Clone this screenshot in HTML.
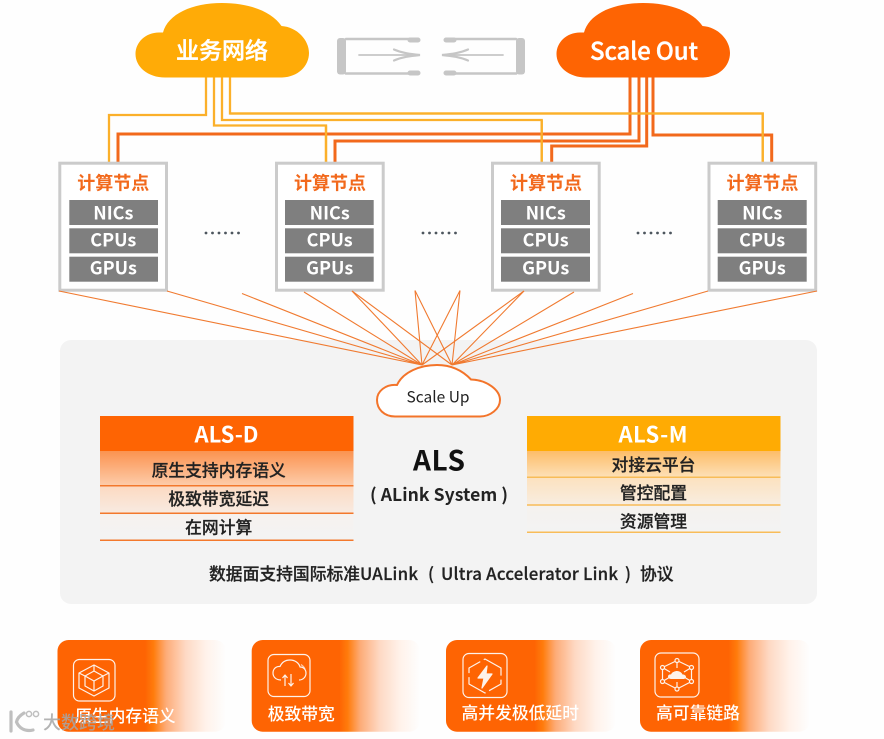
<!DOCTYPE html>
<html><head><meta charset="utf-8">
<style>
html,body{margin:0;padding:0;background:#fefefe;width:884px;height:739px;overflow:hidden}
svg{display:block;filter:blur(.3px)}
text{font-family:"Noto Sans CJK SC","Liberation Sans",sans-serif}
.cjk{font-weight:500}
.m{text-anchor:middle}
.t{fill:#222;stroke:#222;stroke-width:.25px}
.w{stroke:#fff;stroke-width:.4px}
.ti{font-weight:700;fill:#f2691c;font-size:18px;text-anchor:middle}
</style></head><body>
<svg width="884" height="739" viewBox="0 0 884 739" xmlns="http://www.w3.org/2000/svg">
<defs>
<linearGradient id="gd" x1="0" y1="0" x2="0" y2="1">
<stop offset="0" stop-color="#fb9350"/><stop offset=".38" stop-color="#fdcba8"/><stop offset=".4" stop-color="#fcdac2"/><stop offset=".7" stop-color="#f8ebe2"/><stop offset=".72" stop-color="#f6f2ef"/><stop offset="1" stop-color="#f3f3f3"/>
</linearGradient>
<linearGradient id="gm" x1="0" y1="0" x2="0" y2="1">
<stop offset="0" stop-color="#fdbd68"/><stop offset=".32" stop-color="#fde0b6"/><stop offset=".34" stop-color="#fce2c0"/><stop offset=".66" stop-color="#f8ede0"/><stop offset=".68" stop-color="#f5f2ee"/><stop offset="1" stop-color="#f3f3f3"/>
</linearGradient>
<linearGradient id="gc" x1="0" y1="0" x2="1" y2="0">
<stop offset="0" stop-color="#fe6403"/><stop offset=".52" stop-color="#fe6403"/><stop offset=".57" stop-color="#ff7c0c"/><stop offset=".645" stop-color="#fdac78"/><stop offset=".76" stop-color="#fed9c4"/><stop offset=".88" stop-color="#fff2ea"/><stop offset="1" stop-color="#fefefe"/>
</linearGradient>
</defs>

<!-- panel -->
<rect x="60" y="340" width="757" height="264" rx="11" fill="#f3f3f3"/>

<!-- connectors -->
<g fill="none" stroke="#fbb02a" stroke-width="2.300">
<path d="M206 77V115H109V162"/>
<path d="M214 77V125.500H326V162"/>
<path d="M222 77V120H541.700V162"/>
<path d="M230 77V113.500H762.700V162"/>
</g>
<g fill="none" stroke="#f2691c" stroke-width="3">
<path d="M630 77V134H118V162"/>
<path d="M639 77V141H335V162"/>
<path d="M646.700 77V146H551.700V162"/>
<path d="M653 77V135H771.700V162"/>
</g>
<g fill="none" stroke="#fbb02a" stroke-width="2.300">
<path d="M230 113.500H762.700V162"/>
<path d="M326 125.500V162"/>
<path d="M541.700 120V162"/>
</g>

<!-- clouds -->
<path d="M165 77.500C148 77.500 135.500 67 135.500 54C135.500 42 146 32 160 32.500L163 32.500C168 14 192 3 222 3C250 3 272 12 281.500 26C297 27 309 40 309 53C309 66 298 77 282 77.500Z" fill="#ffab07"/>
<path d="M586 77.500C569 77.500 556.500 67 556.500 54C556.500 42 567 32 581 32.500L584 32.500C589 14 613 3 643 3C671 3 693 12 702.500 26C718 27 730 40 730 53C730 66 719 77 703 77.500Z" fill="#fe6403"/>
<text class="cjk m w" x="222" y="58.500" font-size="23" fill="#fff">业务网络</text>
<text class="cjk w" x="590" y="59.500" font-size="24" fill="#fff" textLength="108" lengthAdjust="spacing">Scale Out</text>

<!-- gray link icon -->
<g fill="none" stroke="#c6c6c6" stroke-linecap="round">
<path d="M346 39H410M346 73.500H410" stroke-width="2.600"/>
<rect x="337" y="38" width="9" height="36.500" rx="3" fill="#c6c6c6" stroke="none"/>
<path d="M410 40H418M410 73H418" stroke-width="5"/>
<path d="M359 55H415" stroke-width="1.800"/>
<path d="M394 49.500C402 53 410 54 420 55C410 56 402 57 394 60.500" stroke-width="2.200"/>
<path d="M454 39H516M454 73.500H516" stroke-width="2.600"/>
<rect x="516" y="38" width="9" height="36.500" rx="3" fill="#c6c6c6" stroke="none"/>
<path d="M446 40H454M446 73H454" stroke-width="5"/>
<path d="M447 55H503" stroke-width="1.800"/>
<path d="M468 49.500C460 53 452 54 442 55C452 56 460 57 468 60.500" stroke-width="2.200"/>
</g>

<!-- node 1 -->
<g>
<rect x="59.800" y="163.200" width="106.700" height="127" fill="#fff" stroke="#cbcbcb" stroke-width="3"/>
<text class="ti" x="113.300" y="189.500">计算节点</text>
<rect x="69.300" y="200" width="88.700" height="25" fill="#7f7f7f"/>
<rect x="69.300" y="228.300" width="88.700" height="25" fill="#7f7f7f"/>
<rect x="69.300" y="256.700" width="88.700" height="25" fill="#7f7f7f"/>
<g font-size="18" font-weight="700" fill="#fff">
<text class="m" x="113.300" y="219.500">NICs</text>
<text class="m" x="113.300" y="246.500">CPUs</text>
<text class="m" x="113.300" y="274.500">GPUs</text>
</g>
</g>
<g transform="translate(216.700 0)">
<rect x="59.800" y="163.200" width="106.700" height="127" fill="#fff" stroke="#cbcbcb" stroke-width="3"/>
<text class="ti" x="113.300" y="189.500">计算节点</text>
<rect x="68.300" y="200" width="88.700" height="25" fill="#7f7f7f"/>
<rect x="68.300" y="228.300" width="88.700" height="25" fill="#7f7f7f"/>
<rect x="68.300" y="256.700" width="88.700" height="25" fill="#7f7f7f"/>
<g font-size="18" font-weight="700" fill="#fff">
<text class="m" x="113" y="219.500">NICs</text>
<text class="m" x="113" y="246.500">CPUs</text>
<text class="m" x="113" y="274.500">GPUs</text>
</g>
</g>
<g transform="translate(432.700 0)">
<rect x="59.800" y="163.200" width="106.700" height="127" fill="#fff" stroke="#cbcbcb" stroke-width="3"/>
<text class="ti" x="113.300" y="189.500">计算节点</text>
<rect x="68.300" y="200" width="89" height="25" fill="#7f7f7f"/>
<rect x="68.300" y="228.300" width="89" height="25" fill="#7f7f7f"/>
<rect x="68.300" y="256.700" width="89" height="25" fill="#7f7f7f"/>
<g font-size="18" font-weight="700" fill="#fff">
<text class="m" x="113" y="219.500">NICs</text>
<text class="m" x="113" y="246.500">CPUs</text>
<text class="m" x="113" y="274.500">GPUs</text>
</g>
</g>
<g transform="translate(649.200 0)">
<rect x="59.800" y="163.200" width="106.700" height="127" fill="#fff" stroke="#cbcbcb" stroke-width="3"/>
<text class="ti" x="113.300" y="189.500">计算节点</text>
<rect x="68.500" y="200" width="89" height="25" fill="#7f7f7f"/>
<rect x="68.500" y="228.300" width="89" height="25" fill="#7f7f7f"/>
<rect x="68.500" y="256.700" width="89" height="25" fill="#7f7f7f"/>
<g font-size="18" font-weight="700" fill="#fff">
<text class="m" x="113" y="219.500">NICs</text>
<text class="m" x="113" y="246.500">CPUs</text>
<text class="m" x="113" y="274.500">GPUs</text>
</g>
</g>

<!-- dots -->
<g fill="#4d565e">
<circle cx="206" cy="233" r="1.400"/><circle cx="212.500" cy="233" r="1.400"/><circle cx="219" cy="233" r="1.400"/><circle cx="225.500" cy="233" r="1.400"/><circle cx="232" cy="233" r="1.400"/><circle cx="238.500" cy="233" r="1.400"/>
<circle cx="423" cy="233" r="1.400"/><circle cx="429.500" cy="233" r="1.400"/><circle cx="436" cy="233" r="1.400"/><circle cx="442.500" cy="233" r="1.400"/><circle cx="449" cy="233" r="1.400"/><circle cx="455.500" cy="233" r="1.400"/>
<circle cx="638" cy="233" r="1.400"/><circle cx="644.500" cy="233" r="1.400"/><circle cx="651" cy="233" r="1.400"/><circle cx="657.500" cy="233" r="1.400"/><circle cx="664" cy="233" r="1.400"/><circle cx="670.500" cy="233" r="1.400"/>
</g>

<!-- fan lines -->
<g stroke="#f07a30" stroke-width="1.100" fill="none">
<path d="M59 291L422 365M167 291L422 365M242 293.500L422 365M304 292L422 365M352 291L422 365M415 290.500L422 365M460 290.500L422 365M524 291L422 365"/>
<path d="M352 291L452 365M415 290.500L452 365M460 290.500L452 365M524 291L452 365M574 292L452 365M633 293.500L452 365M708 291L452 365M817 291L452 365"/>
</g>

<!-- Scale Up -->
<path d="M395 416.500C384 416.500 377 409 377 400C377 391 386 384 397 385C403 372 420 365 437 365C450 365 462 370 471 379.500C487 380 500 390 500 400C500 409 490 416.500 480 416.500Z" fill="#fff" stroke="#f3742a" stroke-width="2"/>
<text class="cjk" x="406.500" y="402.500" font-size="15.500" style="font-weight:400" fill="#222" textLength="63" lengthAdjust="spacing">Scale Up</text>

<!-- ALS-D -->
<rect x="100" y="451" width="253.500" height="89" fill="url(#gd)"/>
<rect x="100" y="416" width="253.500" height="35" fill="#fe6403"/>
<g stroke="#f3782c" stroke-width="1.500"><path d="M100 485.700H353.500M100 513.300H353.500M100 540.300H353.500"/></g>
<text class="m" x="226.500" y="442.500" font-size="22" font-weight="700" fill="#fff" textLength="64" lengthAdjust="spacing">ALS-D</text>
<g font-size="16.800">
<text class="cjk m t" x="218.700" y="476.700">原生支持内存语义</text>
<text class="cjk m t" x="218.700" y="505">极致带宽延迟</text>
<text class="cjk m t" x="218.700" y="533.300">在网计算</text>
</g>

<!-- ALS-M -->
<rect x="527" y="451" width="253.500" height="81" fill="url(#gm)"/>
<rect x="527" y="416" width="253.500" height="35" fill="#ffab03"/>
<g stroke="#f8bc58" stroke-width="1.500"><path d="M527 477.300H780.500M527 505H780.500M527 532.300H780.500"/></g>
<text class="m" x="653" y="442.500" font-size="22" font-weight="700" fill="#fff" textLength="69" lengthAdjust="spacing">ALS-M</text>
<g font-size="16.800">
<text class="cjk m t" x="653.500" y="471">对接云平台</text>
<text class="cjk m t" x="653.500" y="499">管控配置</text>
<text class="cjk m t" x="653.500" y="527.500">资源管理</text>
</g>

<!-- centre -->
<text x="413" y="470.500" font-size="28" font-weight="700" fill="#111" textLength="52" lengthAdjust="spacing">ALS</text>
<text x="370" y="501" font-size="17.500" font-weight="700" fill="#222" textLength="138" lengthAdjust="spacing">( ALink System )</text>

<!-- protocol line -->
<g font-size="16.800">
<text class="cjk t" x="209" y="580">数据面支持国际标准</text>
<text class="cjk t" x="360" y="580" textLength="58" lengthAdjust="spacing">UALink</text>
<text class="cjk t" x="428" y="580">(</text>
<text class="cjk t" x="441" y="580" textLength="177" lengthAdjust="spacing">Ultra Accelerator Link</text>
<text class="cjk t" x="625" y="580">)</text>
<text class="cjk t" x="640" y="580">协议</text>
</g>

<!-- bottom cards -->
<rect x="57.500" y="640" width="168.500" height="91.700" rx="11" fill="url(#gc)"/>
<rect x="251.700" y="640" width="168.500" height="91.700" rx="11" fill="url(#gc)"/>
<rect x="446" y="640" width="170" height="91.700" rx="11" fill="url(#gc)"/>
<rect x="640" y="640" width="170" height="91.700" rx="11" fill="url(#gc)"/>

<g fill="none" stroke="#fff" stroke-width="1.200" opacity=".92" stroke-linejoin="round">
<!-- cube -->
<rect x="73.500" y="659.500" width="41.500" height="41.500" rx="6"/>
<path d="M94 665L109 673V688L94 696L79 688V673Z"/>
<path d="M94 671L103 676V686L94 691L85 686V676Z"/>
<path d="M85 676L94 681L103 676M94 681V691M94 665V671M79 673L85 676M109 673L103 676"/>
<!-- cloud -->
<rect x="268" y="654.500" width="42" height="42" rx="6"/>
<path d="M281 680C275 680 273 676 273 673C273 669 276 666 280 666.500C282 662 286 660 290 660C295 660 299 663 300 667C304 667 306 670 306 673C306 677 303 680 299 680"/>
<path d="M301 664.500C303 666 304.500 667.500 305 669" opacity=".7"/>
<path d="M285 686V675M282.500 678L285 675L287.500 678M291 674V686M288.500 683L291 686L293.500 683"/>
<!-- bolt -->
<rect x="463" y="653.500" width="44" height="44" rx="6"/>
<path d="M485 659L501 668V684L485 693L469 684V668Z" stroke-dasharray="26 4 18 4"/>
<path d="M487 666L478 678H484L482 688L492 674H486Z" fill="#fff"/>
<!-- network -->
<rect x="655" y="653" width="44" height="44" rx="6"/>
<path d="M677 660.500L691.500 667.500V681.500L677 689L662.500 681.500V667.500Z"/>
<path d="M677 660.500V668M662.500 667.500L670 672M691.500 667.500L684 672M662.500 681.500L670 677M691.500 681.500L684 677M677 689V682"/>
<circle cx="677" cy="660.500" r="2" fill="#fe6403"/><circle cx="691.500" cy="667.500" r="2" fill="#fe6403"/><circle cx="691.500" cy="681.500" r="2" fill="#fe6403"/><circle cx="677" cy="689" r="2" fill="#fe6403"/><circle cx="662.500" cy="681.500" r="2" fill="#fe6403"/><circle cx="662.500" cy="667.500" r="2" fill="#fe6403"/>
<path d="M671 679C669 679 668 677.500 668 676.500C668 675 669.500 674 671 674.500C672 672 675 671 677 671C680 671 682 673 682.500 674.500C684.500 674.500 686 675.500 686 677C686 678 685 679 683 679Z" fill="#fff" stroke="none"/>
</g>

<g font-size="16.800" fill="#fff">
<text class="cjk" x="75" y="722">原生内存语义</text>
<text class="cjk" x="267.700" y="720">极致带宽</text>
<text class="cjk" x="461.500" y="719">高并发极低延时</text>
<text class="cjk" x="656" y="719">高可靠链路</text>
</g>

<!-- watermark -->
<g opacity=".85">
<g fill="none" stroke="#b4b4b4" stroke-width="3.200" stroke-linecap="round">
<path d="M11 712V731"/>
<path d="M24 713C19 716 17 719 16.500 722C19 728 25 732 33 730"/>
<circle cx="29" cy="714" r="2.600" stroke-width="1.500"/>
<circle cx="36" cy="714" r="2.600" stroke-width="1.500"/>
</g>
<text class="cjk" x="43" y="729" font-size="18" fill="#a6a6a6">大数跨境</text>
</g>
</svg>
</body></html>
